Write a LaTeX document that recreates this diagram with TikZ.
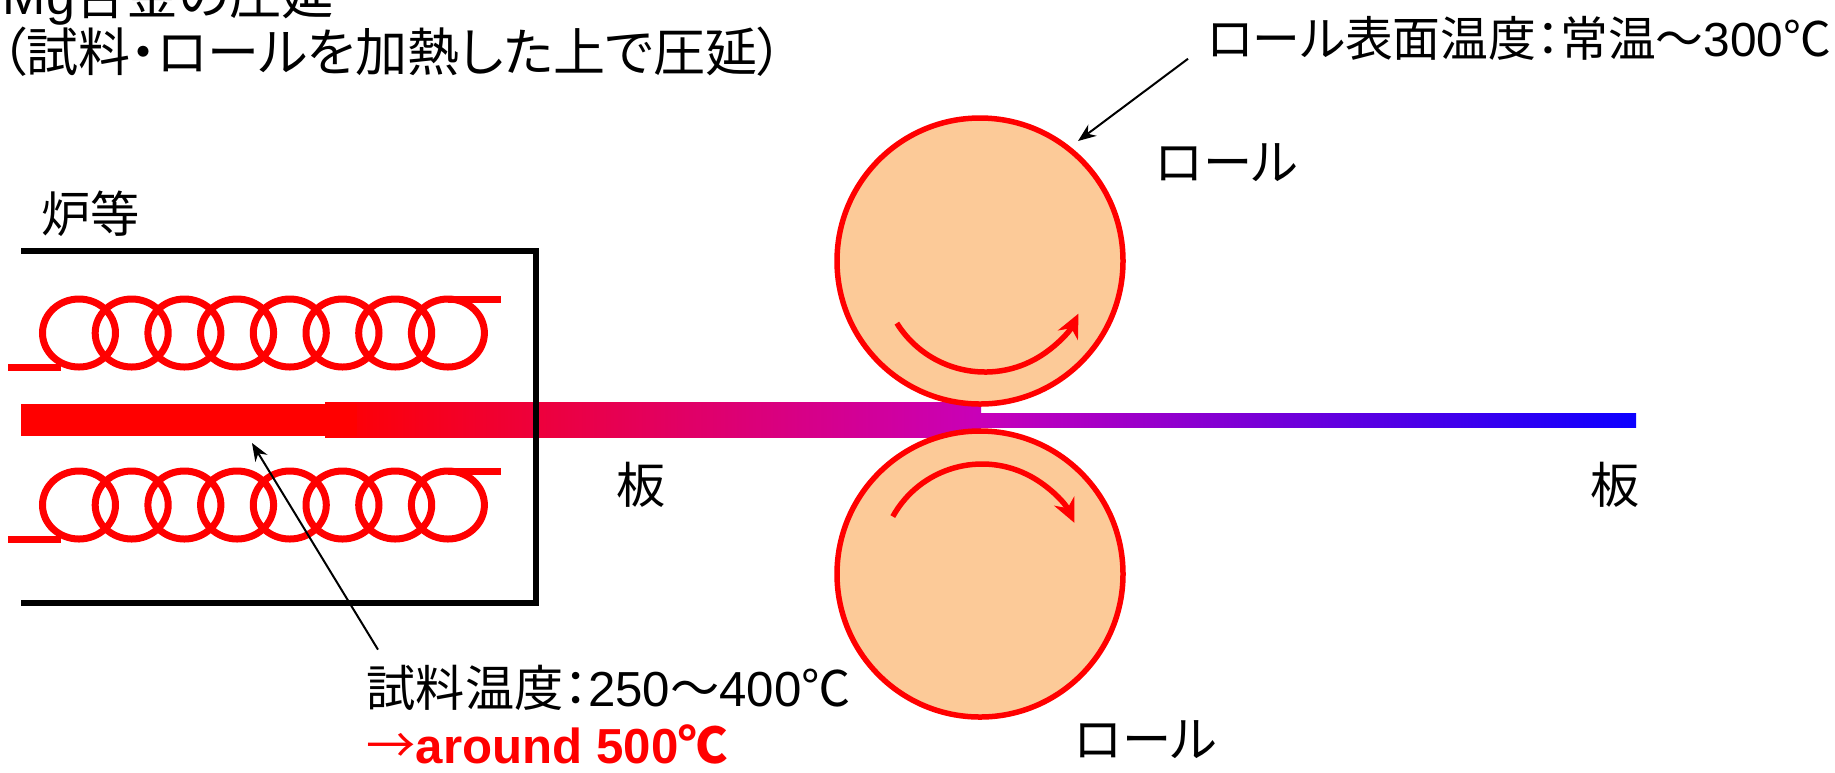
\documentclass[tikz,border=0pt]{standalone}
\usepackage{fontspec}
\setmainfont{Liberation Sans}
\newfontfamily\jp{Noto Sans CJK JP}[RawFeature={+palt}]
\usetikzlibrary{positioning,arrows.meta}

\definecolor{rollfill}{RGB}{252,202,152}
\definecolor{platemid}{RGB}{200,0,185}
\definecolor{plateend}{RGB}{12,0,255}

\begin{document}
\begin{tikzpicture}[x=0.1mm,y=-0.1mm,
    lbl/.style={inner sep=0pt,anchor=west,font=\fontsize{14}{16}\selectfont},
    title/.style={lbl,font=\fontsize{14.8}{17}\selectfont},
    coil/.style={draw=red,line width=0.7mm},
    roll/.style={circle,draw=red,fill=rollfill,line width=0.55mm,minimum size=28.6mm,inner sep=0pt},
    turn/.style={red,line width=0.55mm,-{Stealth[length=2.4mm,width=2.2mm]}},
    pointer/.style={black,line width=0.2mm,-{Stealth[length=1.8mm,width=1.4mm]}}]
\useasboundingbox (0,0) rectangle (1835,772);

\node[title,anchor=base west] (t1) at (2,14) {Mg{\jp 合金の圧延}};
\node[title] (t2) at (0,52) {\jp （試料・ロールを加熱した上で圧延）};

% heater coils
\foreach \y in {333,505}{
  \foreach \i in {0,...,7}
    \draw[coil] (79+52.7*\i,\y) ellipse [x radius=36.5,y radius=34];
  \draw[coil] (8,\y+34) -- (61,\y+34);
  \draw[coil] (448,\y-34) -- (501,\y-34);
}

% plate, hot in the furnace and cooling after the rolls
\shade[left color=red,right color=platemid] (325,402) rectangle (981,437);
\fill[red] (21,404) rectangle (357,436);
\shade[left color=platemid,right color=plateend] (981,413) rectangle (1636,427);

% furnace
\node[lbl] (furn) at (41,214) {\jp 炉等};
\draw[line width=0.53mm] (21,251) -- (536,251) -- (536,603) -- (21,603);

% rolls
\node[roll] (rollU) at (980,261) {};
\node[roll] (rollL) at (980,574) {};
\draw[turn] (985,268) ++(148:104) arc[start angle=148,end angle=26,radius=104];
\draw[turn] (982,566) ++(209:102) arc[start angle=209,end angle=335,radius=102];
\node[lbl] (rollUlbl) at (1155,163) {\jp ロール};
\node[lbl] (rollLlbl) at (1074,740) {\jp ロール};

\node[lbl,anchor=center] (plateIn) at (641,485) {\jp 板};
\node[lbl,anchor=center] (plateOut) at (1615,485) {\jp 板};

% temperatures
\node[lbl,font=\fontsize{13.6}{16}\selectfont] (rolltemp) at (1206,38)
  {{\jp ロール表面温度：常温～}300{\jp ℃}};
\node[lbl] (samptemp) at (366,688) {{\jp 試料温度：}250{\jp ～}400{\jp ℃}};
\node[lbl,below=1.3mm of samptemp.south west,anchor=north west,text=red] (sampnew)
  {{\jp →}\textbf{around 500{\jp ℃}}};

\coordinate (rollspot) at (1078,141);
\coordinate (platespot) at (252,443);
\draw[pointer] ([xshift=-1.8mm,yshift=0.2mm]rolltemp.south west) -- (rollspot);
\draw[pointer] ([xshift=1.2mm,yshift=1.5mm]samptemp.north west) -- (platespot);
\end{tikzpicture}
\end{document}
